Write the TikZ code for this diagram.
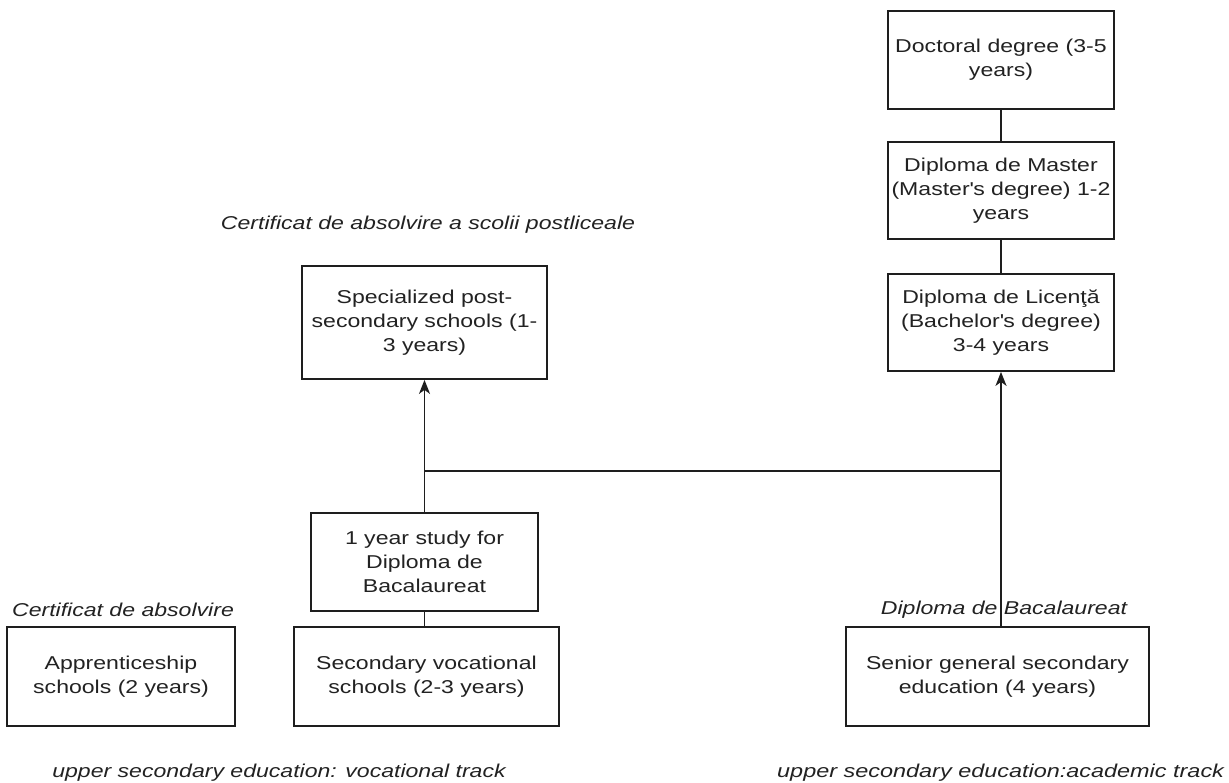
\documentclass[tikz,border=0pt]{standalone}
\usepackage{fontspec}
\setmainfont{Liberation Sans}[FakeStretch=1.24]
\newfontfamily\widefont{Liberation Sans}[FakeStretch=1.26]
\usetikzlibrary{arrows.meta,calc}
\definecolor{ink}{HTML}{1E1E1E}
\definecolor{txt}{HTML}{222222}
\begin{document}
\begin{tikzpicture}[x=1pt,y=-1pt,
  box/.style={draw=ink,line width=1.8pt,rectangle,inner sep=0pt,align=center,
    font=\fontsize{18.6}{24.3}\selectfont,text=txt},
  lbl/.style={inner sep=0pt,font=\fontsize{18.6}{24.3}\selectfont\itshape,text=txt},
  con/.style={draw=ink,line width=1.8pt},
  arr/.style={con,-{Stealth[length=14pt,width=11pt,inset=4pt]}}]
\useasboundingbox (0,0) rectangle (1229,783);
\fill[white] (0,0) rectangle (1229,783);
% boxes
\node[box,minimum width=226pt,minimum height=98pt] (doc) at (1001,60) {Doctoral degree (3-5\\years)};
\node[box,minimum width=226pt,minimum height=97pt] (mas) at (1001,190.5) {Diploma de Master\\(Master\textquotesingle s degree) 1-2\\years};
\node[box,minimum width=226pt,minimum height=97pt] (lic) at (1001,322.5) {Diploma de Licenţă\\(Bachelor\textquotesingle s degree)\\3-4 years};
\node[box,minimum width=245pt,minimum height=113pt] (spec) at (424.5,322.5) {Specialized post-\\secondary schools (1-\\3 years)};
\node[box,minimum width=227pt,minimum height=98pt] (oney) at (424.5,562) {1 year study for\\Diploma de\\Bacalaureat};
\node[box,minimum width=228pt,minimum height=99pt] (appr) at (121,676.5) {Apprenticeship\\schools (2 years)};
\node[box,minimum width=265pt,minimum height=99pt] (secv) at (426.5,676.5) {Secondary vocational\\schools (2-3 years)};
\node[box,minimum width=303pt,minimum height=99pt] (sen) at (997.5,676.5) {Senior general secondary\\education (4 years)};
% labels
\node[lbl] (lpost) at (428,225) {Certificat de absolvire a scolii postliceale};
\node[lbl] (lcert) at (123,610) {Certificat de absolvire};
\node[lbl] (lbac) at (1004,610) {Diploma de Bacalaureat};
\node[lbl] (lvoc) at (279,773) {upper secondary education: vocational track};
\node[lbl,anchor=west,font=\fontsize{18.6}{24.3}\widefont\itshape] (lacad) at (777,773) {upper secondary education:academic track};
% connectors
\draw[con] (doc.south) -- (mas.north);
\draw[con] (mas.south) -- (lic.north);
\draw[con] (secv.north -| oney.south) -- (oney.south);
\draw[arr] (oney.north) -- (spec.south);
\draw[arr] (sen.north -| lic.south) -- (lic.south);
\coordinate (jl) at (424.5,471);
\coordinate (jr) at (1001,471);
\draw[con] (jl) -- (jr);
\end{tikzpicture}
\end{document}
